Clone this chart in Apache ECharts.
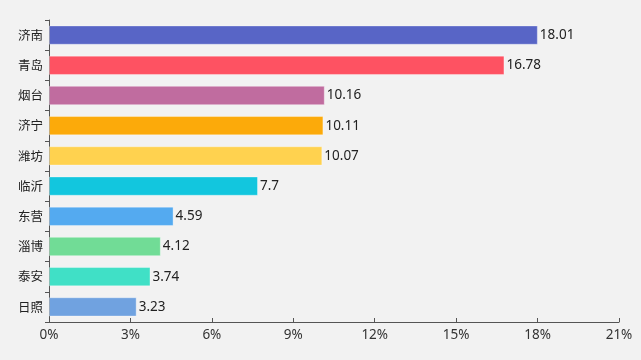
<!DOCTYPE html>
<html><head><meta charset="utf-8">
<script src="https://cdn.jsdelivr.net/npm/echarts@6/dist/echarts.min.js"></script>
<style>html,body{margin:0;padding:0;background:#f2f2f2}#c{width:641px;height:360px}</style>
</head><body><div id="c"></div>
<script>
const categories = ['济南','青岛','烟台','济宁','潍坊','临沂','东营','淄博','泰安','日照'];
const values = [18.01,16.78,10.16,10.11,10.07,7.7,4.59,4.12,3.74,3.23];
const colors = ['#5865c6','#fe5262','#c06c9f','#fcaa0a','#ffd24f','#12c6de','#54aaf0','#71dc96','#40e0c6','#70a2e0'];
const xTicks = [0,3,6,9,12,15,18,21];

const chart = echarts.init(document.getElementById('c'), null, {renderer:'canvas'});
chart.setOption({
  backgroundColor:'#f2f2f2',
  animation:false,
  grid:{left:49,right:22,top:20,bottom:38,containLabel:false},
  xAxis:{type:'value',min:0,max:21,interval:3,
    axisLine:{show:true,lineStyle:{color:'#555',width:1}},
    axisTick:{show:true,inside:true,length:4,lineStyle:{color:'#555'}},
    splitLine:{show:false},
    axisLabel:{formatter:v=>v+'%',color:'#333',fontSize:13.5,margin:6,
      fontFamily:'"Noto Sans", sans-serif'}},
  yAxis:{type:'category',data:categories,inverse:true,
    axisLine:{show:true,lineStyle:{color:'#555',width:1}},
    axisTick:{show:true,length:4,lineStyle:{color:'#555'}},
    axisLabel:{color:'#222',fontSize:12.5,margin:6,
      fontFamily:'"Noto Sans CJK SC", sans-serif'}},
  series:[{type:'bar',barWidth:'64%',
    data:values.map((v,i)=>({value:v,itemStyle:{color:colors[i]}})),
    itemStyle:{borderColor:'rgba(255,255,255,0.35)',borderWidth:1},
    label:{show:true,position:'right',distance:2,color:'#222',fontSize:13.5,
      fontFamily:'"Noto Sans", sans-serif'}
  }]
});
</script></body></html>
